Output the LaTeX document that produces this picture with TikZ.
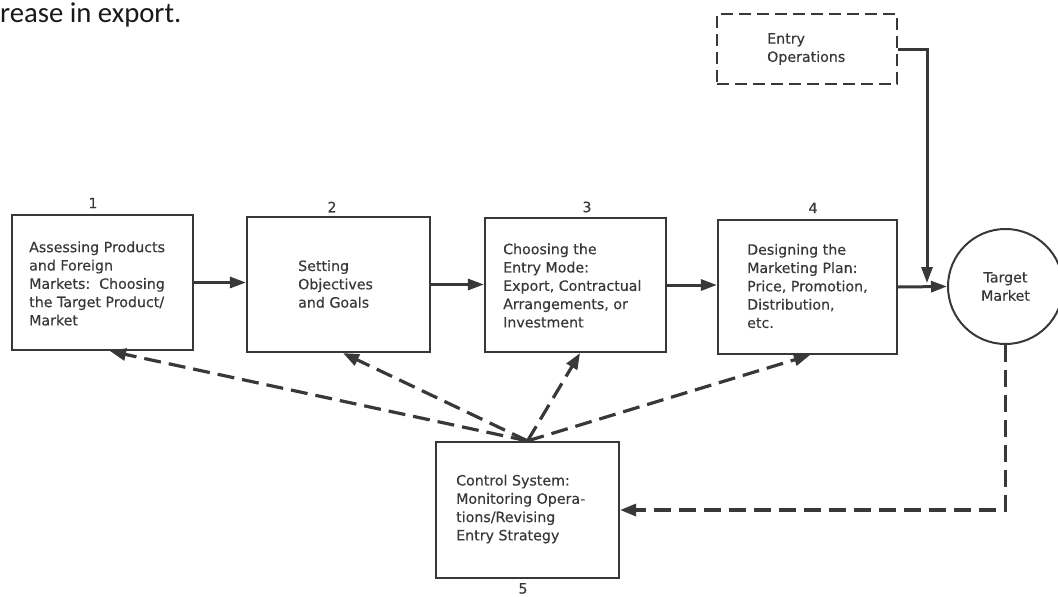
\documentclass[tikz,border=0pt]{standalone}
\usepackage{fontspec}
\setmainfont{DejaVu Sans}
\newfontfamily\diagfont[FakeBold=0.4]{DejaVu Sans}
\newfontfamily\bodyfont{Carlito}
\usetikzlibrary{arrows.meta,calc}
\definecolor{ink}{HTML}{383838}
\begin{document}
\begin{tikzpicture}[x=1pt,y=-1pt,
  box/.style={draw=ink, line width=2.2pt, rectangle, inner sep=0pt},
  txt/.style={text=ink, inner sep=0pt, align=left, anchor=west,
    font=\diagfont\fontsize{14.2}{18.3}\selectfont},
  num/.style={text=ink, inner sep=0pt, font=\diagfont\fontsize{14.2}{16}\selectfont},
  flow/.style={draw=ink, line width=3pt, -{Triangle[length=16pt,width=11pt]}},
  fb/.style={draw=ink, line width=3.2pt, dash pattern=on 17pt off 8pt,
    -{Triangle[length=16pt,width=12pt]}},
]
\useasboundingbox (0,0) rectangle (1058,597);

% trailing sentence of the surrounding text
\node[anchor=base west, inner sep=0pt, text=black!90,
  font=\bodyfont\fontsize{28.7}{34}\selectfont] (hdr) at (0,22) {rease in export.};

% process steps
\node[box, minimum width=181, minimum height=135] (b1) at (102.5,282.5) {};
\node[box, minimum width=183, minimum height=135] (b2) at (338.5,284.5) {};
\node[box, minimum width=181, minimum height=134] (b3) at (575.5,285) {};
\node[box, minimum width=179, minimum height=134] (b4) at (807.5,287) {};
\node[box, minimum width=183, minimum height=136] (b5) at (527.5,510) {};
\node[box, dash pattern=on 12pt off 6pt, minimum width=180, minimum height=70] (eo) at (807,49) {};
\node[draw=ink, line width=2pt, circle, minimum size=115, inner sep=0pt,
  text=ink, align=center, font=\diagfont\fontsize{14.2}{18.3}\selectfont] (tm) at (1005.5,286.5)
  {Target\\Market};

% step texts
\node[txt] (t1) at (29,283.5) {Assessing Products\\and Foreign\\Markets:\ \ Choosing\\the Target Product/\\Market};
\node[txt] (t2) at (298,284) {Setting\\Objectives\\and Goals};
\node[txt] (t3) at (503,285.5) {Choosing the\\Entry Mode:\\Export, Contractual\\Arrangements, or\\Investment};
\node[txt] (t4) at (747,286) {Designing the\\Marketing Plan:\\Price, Promotion,\\Distribution,\\etc.};
\node[txt] (t5) at (456,509) {Control System:\\Monitoring Opera-\\tions/Revising\\Entry Strategy};
\node[txt] (teo) at (767,49) {Entry\\Operations};

% step numbers
\node[num] (n1) at (93,203) {1};
\node[num] (n2) at (332,207) {2};
\node[num] (n3) at (587,207) {3};
\node[num] (n4) at (813,208) {4};
\node[num] (n5) at (523,588.5) {5};

% main flow
\draw[flow] (b1.east) -- (b1.east -| b2.west);
\draw[flow] (b2.east) -- (b2.east -| b3.west);
\draw[flow] (b3.east) -- (b3.east -| b4.west);
\draw[flow] (b4.east) -- (tm.west);
\coordinate (join) at (927,283);
\draw[flow] (eo.east) -| (join);

% control feedback
\draw[fb] (b5.north) -- ([xshift=7.5pt]b1.south);
\draw[fb] (b5.north) -- ([xshift=4.5pt]b2.south);
\draw[fb] (b5.north) -- ([xshift=4.5pt]b3.south);
\draw[fb] (b5.north) -- ([xshift=2.5pt]b4.south);
\draw[fb] (tm.south) |- (b5.east);
\end{tikzpicture}
\end{document}
